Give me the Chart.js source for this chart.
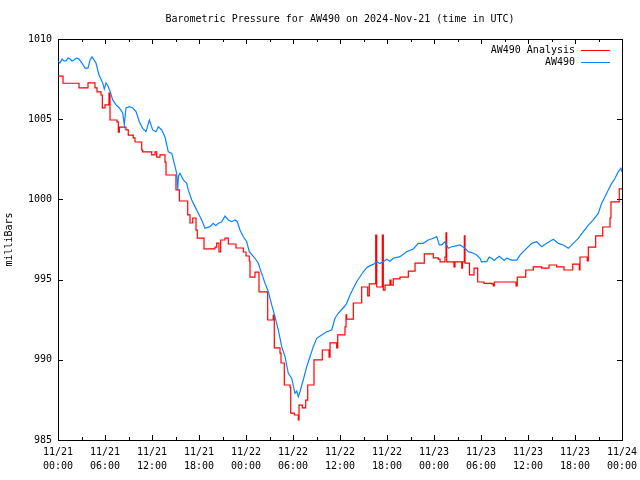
<!DOCTYPE html>
<html><head><meta charset="utf-8">
<script src="https://cdn.jsdelivr.net/npm/chart.js@4"></script>
<style>html,body{margin:0;padding:0;background:#fff}</style>
</head><body>
<canvas id="c" width="640" height="480"></canvas>
<script>
const chartTitle = 'Barometric Pressure for AW490 on 2024-Nov-21 (time in UTC)';
const yAxisTitle = 'milliBars';
const seriesNames = ['AW490 Analysis', 'AW490'];
const seriesColors = ['#ff0000', '#0a84ff'];

const tickHours = [0, 6, 12, 18, 24, 30, 36, 42, 48, 54, 60, 66, 72];
const tickDates = ['11/21','11/21','11/21','11/21','11/22','11/22','11/22','11/22','11/23','11/23','11/23','11/23','11/24'];
const tickTimes = ['00:00','06:00','12:00','18:00','00:00','06:00','12:00','18:00','00:00','06:00','12:00','18:00','00:00'];
const pressureTicks = [985, 990, 995, 1000, 1005, 1010];

// AW490 Analysis (stepped): hours since 11/21 00:00 UTC and mbar
const analysisHours = [0.00,0.64,2.68,3.83,4.72,4.98,5.49,5.66,6.00,6.51,6.64,7.53,7.70,7.83,8.68,8.97,9.61,9.83,10.69,10.81,11.96,12.38,12.60,13.02,13.66,13.79,15.06,15.49,16.56,16.85,17.20,17.62,17.78,18.64,20.04,20.26,20.55,20.77,21.32,21.74,22.72,23.66,24.00,24.42,24.51,25.15,25.66,26.77,27.48,27.61,28.34,28.47,28.89,29.62,29.71,30.17,30.68,30.77,31.19,31.62,31.88,32.68,33.74,34.60,34.73,35.58,35.71,36.64,36.77,36.85,37.70,38.77,39.54,39.74,40.56,40.69,41.40,41.53,41.75,42.38,42.51,42.80,43.66,44.72,45.58,46.76,47.91,48.55,48.77,49.40,49.53,49.62,50.55,50.68,51.54,51.64,51.87,51.96,52.53,53.11,53.58,54.38,55.40,55.57,55.70,58.47,58.63,59.71,60.68,61.75,62.68,63.66,64.60,65.71,66.55,66.64,67.57,67.70,68.64,69.54,70.47,70.59,71.65,72.00];
const analysisPressure = [1007.69,1007.24,1006.95,1007.26,1006.95,1006.70,1006.51,1005.70,1005.89,1006.63,1004.95,1004.83,1004.20,1004.51,1004.33,1004.01,1003.83,1003.58,1003.08,1002.96,1002.77,1002.96,1002.64,1002.77,1002.33,1001.52,1000.59,999.90,999.03,998.53,998.84,998.09,997.59,996.91,997.03,997.28,996.72,997.47,997.59,997.22,996.97,996.72,996.47,996.16,995.16,995.47,994.23,992.48,992.79,990.74,990.42,989.80,988.43,988.30,986.68,986.56,986.25,987.18,987.00,987.49,988.43,989.99,990.61,990.17,991.05,990.74,991.55,992.05,992.80,992.54,993.54,994.54,993.98,994.73,997.78,994.54,997.78,994.35,994.66,994.97,994.66,995.04,995.16,995.53,996.03,996.60,996.35,996.28,996.10,996.41,997.91,996.10,995.79,996.10,995.72,996.10,997.72,996.03,995.29,995.72,994.85,994.77,994.73,994.60,994.85,994.60,995.16,995.60,995.79,995.72,995.91,995.79,995.60,995.97,995.60,996.41,996.16,997.03,997.72,998.28,998.84,999.84,1000.65,1000.65];

// AW490 station observations
const stationHours = [0.00,0.25,0.51,0.76,1.02,1.28,1.53,1.79,2.04,2.36,2.68,3.06,3.45,3.83,4.09,4.34,4.60,4.85,5.23,5.71,5.91,6.13,6.38,6.68,6.98,7.40,7.83,8.26,8.46,8.68,9.10,9.54,9.96,10.38,10.81,11.23,11.66,12.09,12.51,12.80,13.24,13.66,14.08,14.52,14.73,15.15,15.28,15.38,15.57,16.00,16.43,16.63,17.07,17.49,17.91,18.34,18.77,19.40,19.82,20.15,20.46,20.90,21.32,21.74,22.17,22.60,22.89,23.23,23.66,24.09,24.42,25.15,25.57,26.00,26.43,26.85,27.28,27.70,28.12,28.56,28.98,29.40,29.83,30.25,30.47,30.68,30.89,31.31,31.75,32.17,32.59,33.03,33.66,34.30,34.94,35.36,35.78,36.51,36.85,37.28,37.70,38.13,38.55,38.98,39.41,39.83,40.25,40.69,41.10,41.53,41.97,42.38,42.80,43.66,44.51,45.36,45.99,46.63,47.27,47.91,48.34,48.68,48.98,49.40,49.82,50.26,50.68,51.32,51.96,52.38,53.02,53.45,53.87,54.08,54.29,54.73,55.05,55.37,55.68,56.00,56.32,56.64,56.96,57.28,57.92,58.56,58.98,59.40,59.83,60.47,61.11,61.75,62.39,63.23,63.87,64.51,65.15,65.78,66.42,67.06,67.70,68.33,68.97,69.40,69.83,70.25,70.68,71.11,71.53,71.87,72.00];
const stationPressure = [1008.63,1008.50,1008.75,1008.63,1008.63,1008.81,1008.75,1008.63,1008.69,1008.81,1008.75,1008.50,1008.19,1008.19,1008.69,1008.88,1008.69,1008.50,1007.76,1007.26,1006.88,1007.26,1007.07,1006.70,1006.20,1005.89,1005.70,1005.39,1004.64,1005.70,1005.78,1005.70,1005.47,1004.84,1004.43,1004.22,1004.95,1004.33,1004.22,1004.53,1004.33,1003.89,1002.97,1002.87,1002.46,1001.63,1000.59,1001.46,1001.63,1001.21,1001.00,1000.59,999.96,999.55,999.13,998.72,998.20,998.30,998.51,998.36,998.51,998.61,998.96,998.72,998.61,998.72,998.61,998.09,997.67,997.36,996.74,996.33,996.02,995.39,994.77,994.25,993.42,992.69,991.86,990.82,990.19,989.16,988.85,987.91,988.05,987.70,988.01,988.74,989.57,990.19,990.82,991.34,991.55,991.75,991.86,992.59,992.90,993.29,993.52,994.04,994.46,994.87,995.18,995.49,995.74,995.87,995.95,996.12,996.00,996.12,996.27,996.15,996.33,996.43,996.74,996.91,997.26,997.26,997.47,997.58,997.68,997.16,997.16,997.36,996.95,997.05,997.09,997.16,996.95,996.74,996.64,996.53,996.33,996.10,996.12,996.12,996.40,996.33,996.20,996.33,996.45,996.33,996.20,996.33,996.22,996.22,996.53,996.74,996.95,997.26,997.36,997.05,997.26,997.51,997.26,997.16,996.95,997.26,997.57,997.99,998.40,998.72,999.13,999.76,1000.17,1000.59,1001.00,1001.32,1001.73,1001.94,1001.71];

const FONT = '"DejaVu Sans Mono", "Liberation Mono", monospace';
const toPoints = (xs, ys) => xs.map((x, i) => ({x: x, y: ys[i]}));

const framePlugin = {
  id: 'gnuplotFrame',
  beforeDatasetsDraw(chart) {
    const {ctx, chartArea: a, scales: {x, y}} = chart;
    ctx.save();
    ctx.strokeStyle = '#000';
    ctx.lineWidth = 1;
    ctx.beginPath();
    for (let h = 0; h <= 72; h += 3) {
      const px = Math.round(x.getPixelForValue(h)) + 0.5;
      const len = (h % 6 === 0) ? 5 : 3;
      ctx.moveTo(px, a.bottom); ctx.lineTo(px, a.bottom - len);
      ctx.moveTo(px, a.top); ctx.lineTo(px, a.top + len);
    }
    pressureTicks.forEach(v => {
      const py = Math.round(y.getPixelForValue(v)) + 0.5;
      ctx.moveTo(a.left, py); ctx.lineTo(a.left + 5, py);
      ctx.moveTo(a.right, py); ctx.lineTo(a.right - 5, py);
    });
    ctx.stroke();
    ctx.strokeRect(Math.round(a.left) + 0.5, Math.round(a.top) + 0.5, Math.round(a.right - a.left), Math.round(a.bottom - a.top));
    ctx.restore();
  },
  afterDraw(chart) {
    const {ctx, chartArea: a} = chart;
    ctx.save();
    ctx.font = '10px ' + FONT;
    ctx.textAlign = 'right';
    ctx.textBaseline = 'middle';
    chart.data.datasets.forEach((ds, i) => {
      const yy = a.top + 11 + i * 12;
      ctx.fillStyle = '#000';
      ctx.fillText(ds.label, a.right - 47, yy);
      ctx.strokeStyle = ds.borderColor;
      ctx.lineWidth = 1;
      ctx.beginPath();
      ctx.moveTo(a.right - 41, Math.round(yy) + 0.5);
      ctx.lineTo(a.right - 12, Math.round(yy) + 0.5);
      ctx.stroke();
    });
    ctx.restore();
  }
};

new Chart(document.getElementById('c'), {
  type: 'line',
  data: {
    datasets: [
      {label: seriesNames[0], data: toPoints(analysisHours, analysisPressure), borderColor: seriesColors[0], borderWidth: 1.2, pointRadius: 0, stepped: 'before', tension: 0, order: 2},
      {label: seriesNames[1], data: toPoints(stationHours, stationPressure), borderColor: seriesColors[1], borderWidth: 1.2, pointRadius: 0, tension: 0, order: 1}
    ]
  },
  options: {
    responsive: false,
    animation: false,
    devicePixelRatio: 1,
    layout: {padding: {left: 0, right: 18, top: 0, bottom: 0}},
    plugins: {
      legend: {display: false},
      tooltip: {enabled: false},
      title: {display: true, fullSize: false, text: chartTitle, color: '#000', font: {family: FONT, size: 10, weight: 'normal'}, padding: {top: 13, bottom: 14}}
    },
    scales: {
      x: {
        type: 'linear', min: 0, max: 72,
        afterFit(s) { s.height = 40; s.paddingLeft = 0; s.paddingRight = 0; },
        afterBuildTicks(s) { s.ticks = tickHours.map(v => ({value: v})); },
        grid: {display: false, drawTicks: false},
        border: {display: false},
        ticks: {autoSkip: false, maxRotation: 0, minRotation: 0, padding: 6, color: '#000',
          font: {family: FONT, size: 10, lineHeight: 1.35},
          callback: (v) => { const i = tickHours.indexOf(v); return [tickDates[i], tickTimes[i]]; }}
      },
      y: {
        type: 'linear', min: 985, max: 1010,
        afterFit(s) { s.width = 58; s.paddingTop = 0; s.paddingBottom = 0; },
        afterBuildTicks(s) { s.ticks = pressureTicks.map(v => ({value: v})); },
        grid: {display: false, drawTicks: false},
        border: {display: false},
        ticks: {padding: 6, color: '#000', font: {family: FONT, size: 10}, callback: v => String(v)},
        title: {display: true, text: yAxisTitle, color: '#000', font: {family: FONT, size: 10}, padding: {top: 3, bottom: 0}}
      }
    }
  },
  plugins: [framePlugin]
});
</script>
</body></html>
